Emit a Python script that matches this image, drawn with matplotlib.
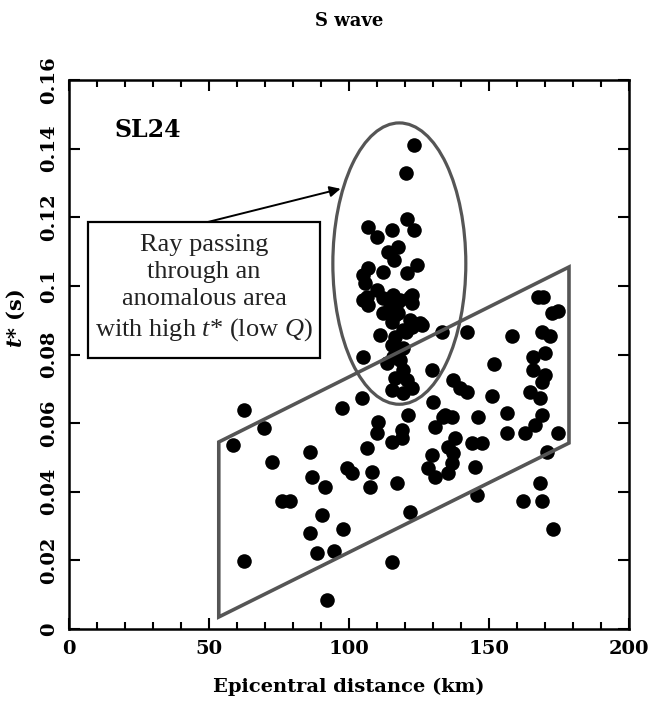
import matplotlib.pyplot as plt
import matplotlib.patches as patches
from matplotlib.ticker import MultipleLocator, FixedLocator, FixedFormatter

plt.rcParams.update({
    'font.family': 'DejaVu Serif',
    'font.weight': 'bold',
    'mathtext.fontset': 'custom',
    'mathtext.rm': 'Liberation Serif',
    'mathtext.it': 'Liberation Serif:style=italic:weight=normal',
    'mathtext.bf': 'DejaVu Serif:style=italic:weight=bold',
})

# epicentral distance (km) and t* (s) for each ray
dist = [123.2, 120.4, 120.7, 123.2, 106.8, 110.0, 115.4, 117.5, 113.9, 116.1,
        124.3, 120.7, 112.1, 106.8, 105.0, 105.7, 110.0, 106.4, 115.7, 122.5,
        105.0, 106.8, 112.1, 114.6, 118.2, 121.8, 122.5, 112.1, 116.4, 115.4,
        119.3, 122.5, 125.4, 111.1, 116.4, 115.4, 119.3, 133.2, 142.1, 105.0,
        113.6, 118.2, 119.3, 116.4, 120.7, 129.6, 137.1, 139.6, 115.4, 119.3,
        122.5, 104.6, 97.5, 130.0, 110.4, 121.1, 134.3, 136.8,
        115.7, 120.4, 121.8, 117.1, 117.5, 126.1, 133.6,
        62.5, 69.6, 58.6, 110.0, 118.9, 118.9, 115.4, 106.4, 86.1, 72.5,
        99.3, 101.1, 108.2, 86.8, 91.4, 107.5, 117.1, 76.1, 78.9, 90.4,
        86.1, 97.9, 121.8, 88.6, 94.6, 62.5, 115.4, 92.1,
        158.2, 167.5, 169.3, 172.5, 174.6, 168.9, 171.8, 165.7, 170.0, 151.8,
        165.7, 170.0, 168.9, 142.1, 151.1, 164.6, 168.2, 156.4, 146.1, 168.9,
        130.7, 166.4, 162.9, 156.4, 174.6, 137.9, 143.9, 147.5,
        135.4, 137.1, 129.6, 136.8, 128.2, 130.7, 135.4, 145.0, 145.7, 170.7,
        168.2, 162.1, 168.9, 172.9]
tstar = [0.1410, 0.1329, 0.1195, 0.1163, 0.1172, 0.1143, 0.1163, 0.1113, 0.1099, 0.1075,
         0.1061, 0.1038, 0.1040, 0.1052, 0.1032, 0.1008, 0.0988, 0.0968, 0.0973, 0.0973,
         0.0959, 0.0944, 0.0965, 0.0938, 0.0959, 0.0968, 0.0950, 0.0921, 0.0915, 0.0895,
         0.0871, 0.0880, 0.0892, 0.0857, 0.0851, 0.0828, 0.0819, 0.0866, 0.0866, 0.0793,
         0.0775, 0.0784, 0.0755, 0.0732, 0.0726, 0.0755, 0.0726, 0.0702, 0.0697, 0.0688,
         0.0702, 0.0673, 0.0644, 0.0662, 0.0603, 0.0624, 0.0624, 0.0618,
         0.0793, 0.0866, 0.0901, 0.0950, 0.0921, 0.0886, 0.0618,
         0.0638, 0.0586, 0.0536, 0.0571, 0.0580, 0.0557, 0.0545, 0.0528, 0.0516, 0.0487,
         0.0469, 0.0455, 0.0458, 0.0443, 0.0414, 0.0414, 0.0426, 0.0373, 0.0373, 0.0332,
         0.0280, 0.0291, 0.0341, 0.0222, 0.0227, 0.0198, 0.0195, 0.0085,
         0.0854, 0.0968, 0.0968, 0.0921, 0.0927, 0.0866, 0.0854, 0.0793, 0.0804, 0.0772,
         0.0755, 0.0740, 0.0720, 0.0691, 0.0679, 0.0691, 0.0673, 0.0630, 0.0618, 0.0624,
         0.0589, 0.0595, 0.0571, 0.0571, 0.0571, 0.0557, 0.0542, 0.0542,
         0.0530, 0.0513, 0.0507, 0.0484, 0.0469, 0.0443, 0.0455, 0.0472, 0.0391, 0.0516,
         0.0426, 0.0373, 0.0373, 0.0291]

# parallelogram of "normal" rays and ellipse of anomalous rays
band_x = [53.5, 53.5, 178.6, 178.6]
band_y = [0.0035, 0.0545, 0.1055, 0.0542]
ell_center = (118.0, 0.1065)
ell_w, ell_h = 47.5, 0.082

xticks = [0, 50, 100, 150, 200]
yticks = [0, 0.02, 0.04, 0.06, 0.08, 0.1, 0.12, 0.14, 0.16]
ytick_labels = ['0', '0.02', '0.04', '0.06', '0.08', '0.1', '0.12', '0.14', '0.16']

fig = plt.figure(figsize=(6.48, 7.02), dpi=100)
ax = fig.add_axes([0.1065, 0.104, 0.864, 0.782])

ax.scatter(dist, tstar, s=110, c='black', linewidths=0, zorder=3)

gray = '#555555'
ax.add_patch(patches.Polygon(list(zip(band_x, band_y)), closed=True, fill=False,
                             edgecolor=gray, linewidth=2.6, zorder=4))
ax.add_patch(patches.Ellipse(ell_center, ell_w, ell_h, fill=False,
                             edgecolor=gray, linewidth=2.3, zorder=4))

# annotation box with arrow pointing at the ellipse
ax.add_patch(patches.Rectangle((6.8, 0.079), 82.8, 0.0396, fill=False,
                               edgecolor='black', linewidth=1.6, zorder=5))
ax.annotate('', xy=(97.0, 0.1283), xytext=(49.5, 0.1186),
            arrowprops=dict(arrowstyle='-|>', color='black', lw=1.4,
                            mutation_scale=16, shrinkA=0, shrinkB=0))
ax.text(48.2, 0.0993,
        'Ray passing\nthrough an\nanomalous area\nwith high $t$* (low $Q$)',
        ha='center', va='center', fontsize=19, family='Liberation Serif',
        fontweight='normal', color='#222222', linespacing=1.3, zorder=6)

ax.text(28.2, 0.1454, 'SL24', ha='center', va='center', fontsize=17,
        fontweight='bold')

ax.set_xlim(0, 200)
ax.set_ylim(0, 0.16)
ax.xaxis.set_major_locator(FixedLocator(xticks))
ax.xaxis.set_minor_locator(MultipleLocator(10))
ax.yaxis.set_major_locator(FixedLocator(yticks))
ax.yaxis.set_major_formatter(FixedFormatter(ytick_labels))
ax.tick_params(which='both', direction='in', top=True, right=True, width=1.5)
ax.tick_params(which='major', length=8, labelsize=14, pad=8)
ax.tick_params(which='minor', length=5)
for lab in ax.get_yticklabels():
    lab.set_rotation(90)
    lab.set_va('center')
for sp in ax.spines.values():
    sp.set_linewidth(1.8)

ax.set_xlabel('Epicentral distance (km)', fontsize=14, fontweight='bold', labelpad=14)
ax.set_ylabel(r'$\mathbf{t}$* (s)', fontsize=15, fontweight='bold')
ax.yaxis.set_label_coords(-0.075, 0.566)
ax.set_title('S wave', fontsize=13, fontweight='bold', pad=39)

fig.savefig('out.png', dpi=100, facecolor='white')
